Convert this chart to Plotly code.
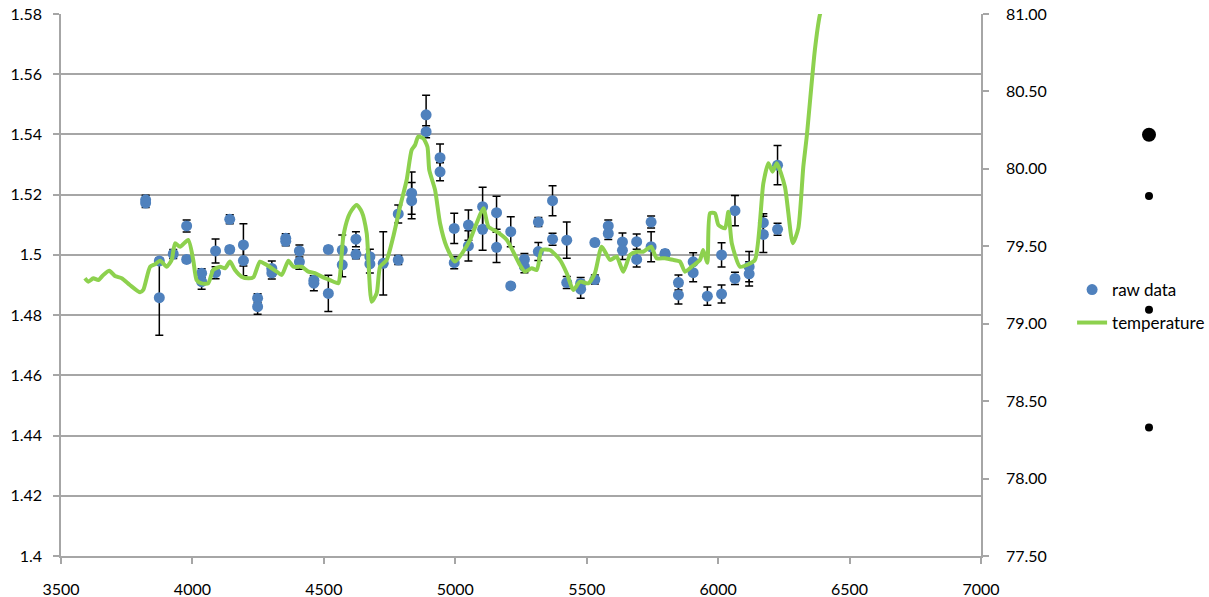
import plotly.graph_objects as go

# ---- raw data (left axis) ----
raw_x = [3822, 3822, 3874, 3874, 3927, 3978, 3978, 4035, 4035, 4088, 4088,
         4142, 4142, 4194, 4194, 4248, 4248, 4302, 4302, 4355, 4355, 4407, 4407,
         4462, 4462, 4517, 4517, 4570, 4570, 4622, 4622, 4675, 4675, 4726,
         4783, 4783, 4834, 4834, 4889, 4889, 4942, 4942, 4996, 4996, 5050, 5050,
         5104, 5104, 5157, 5157, 5211, 5211, 5263, 5263, 5316, 5316, 5370, 5370,
         5424, 5424, 5477, 5477, 5531, 5531, 5582, 5582, 5636, 5636, 5690, 5690,
         5745, 5745, 5798, 5798, 5849, 5849, 5905, 5905, 5959, 6013, 6013,
         6064, 6064, 6118, 6118, 6172, 6172, 6226, 6226]
raw_y = [1.5183, 1.5172, 1.4980, 1.4858, 1.5003, 1.5096, 1.4985, 1.4939, 1.4911, 1.5013, 1.4941,
         1.5118, 1.5018, 1.5033, 1.4981, 1.4856, 1.4828, 1.4955, 1.4940, 1.5055, 1.5045, 1.5013, 1.4977,
         1.4916, 1.4906, 1.5018, 1.4872, 1.5016, 1.4967, 1.5052, 1.5002, 1.4994, 1.4970, 1.4972,
         1.5136, 1.4983, 1.5205, 1.5180, 1.5465, 1.5409, 1.5323, 1.5276, 1.5088, 1.4974, 1.5099, 1.5030,
         1.5160, 1.5085, 1.5140, 1.5025, 1.5077, 1.4897, 1.4985, 1.4961, 1.5109, 1.5011, 1.5180, 1.5052,
         1.5049, 1.4908, 1.4905, 1.4886, 1.5041, 1.4918, 1.5096, 1.5071, 1.5043, 1.5015, 1.5044, 1.4985,
         1.5109, 1.5027, 1.5005, 1.5002, 1.4908, 1.4867, 1.4977, 1.4941, 1.4863, 1.5000, 1.4870,
         1.5147, 1.4922, 1.4961, 1.4937, 1.5107, 1.5068, 1.5298, 1.5085]
raw_err = [0.0015, 0.0015, 0.0010, 0.0125, 0.0015, 0.0020, 0.0010, 0.0015, 0.0025, 0.0040, 0.0020,
           0.0015, 0.0010, 0.0070, 0.0050, 0.0015, 0.0025, 0.0025, 0.0020, 0.0015, 0.0015, 0.0020, 0.0025,
           0.0015, 0.0025, 0.0010, 0.0060, 0.0050, 0.0040, 0.0025, 0.0015, 0.0025, 0.0030, 0.0105,
           0.0030, 0.0015, 0.0070, 0.0060, 0.0065, 0.0020, 0.0045, 0.0030, 0.0050, 0.0020, 0.0050, 0.0050,
           0.0065, 0.0070, 0.0055, 0.0050, 0.0050, 0.0010, 0.0020, 0.0020, 0.0015, 0.0030, 0.0050, 0.0020,
           0.0060, 0.0020, 0.0020, 0.0030, 0.0010, 0.0015, 0.0020, 0.0020, 0.0030, 0.0030, 0.0025, 0.0025,
           0.0020, 0.0050, 0.0010, 0.0010, 0.0025, 0.0030, 0.0030, 0.0030, 0.0030, 0.0040, 0.0030,
           0.0050, 0.0020, 0.0050, 0.0040, 0.0030, 0.0060, 0.0065, 0.0020]

# ---- temperature (right axis) ----
temp_x = [3591, 3604, 3623, 3642, 3661, 3684, 3705, 3731, 3762, 3801, 3813, 3839, 3858, 3877,
          3902, 3921, 3934, 3953, 3984, 4003, 4016, 4035, 4060, 4079, 4105, 4124, 4143, 4162,
          4187, 4213, 4232, 4257, 4283, 4321, 4340, 4365, 4384, 4416, 4441, 4466, 4492, 4523,
          4555, 4561, 4574, 4593, 4606, 4625, 4644, 4663, 4682, 4701, 4714, 4739, 4764, 4790,
          4815, 4834, 4847, 4859, 4878, 4894, 4901, 4923, 4942, 4967, 4999, 5030, 5056, 5081,
          5107, 5126, 5158, 5196, 5246, 5265, 5291, 5310, 5329, 5360, 5398, 5424, 5449, 5474,
          5506, 5531, 5557, 5589, 5614, 5639, 5665, 5690, 5715, 5745, 5766, 5798, 5829, 5855,
          5874, 5899, 5931, 5943, 5959, 5969, 5988, 6001, 6026, 6039, 6052, 6083, 6109, 6140,
          6172, 6191, 6207, 6223, 6254, 6284, 6305, 6324, 6337, 6368, 6387, 6403]
temp_y = [79.293, 79.271, 79.293, 79.282, 79.315, 79.342, 79.308, 79.293, 79.250, 79.203, 79.218,
          79.368, 79.384, 79.407, 79.368, 79.412, 79.519, 79.497, 79.541, 79.412, 79.282, 79.261,
          79.261, 79.347, 79.368, 79.358, 79.401, 79.347, 79.304, 79.293, 79.300, 79.401, 79.379,
          79.336, 79.315, 79.407, 79.368, 79.368, 79.336, 79.326, 79.304, 79.282, 79.261, 79.304,
          79.562, 79.691, 79.734, 79.767, 79.723, 79.584, 79.142, 79.197, 79.368, 79.412, 79.562,
          79.756, 79.928, 80.122, 80.154, 80.208, 80.197, 80.143, 79.993, 79.864, 79.649, 79.497,
          79.401, 79.465, 79.541, 79.649, 79.745, 79.627, 79.594, 79.541, 79.379, 79.336, 79.358,
          79.347, 79.476, 79.476, 79.412, 79.326, 79.218, 79.271, 79.261, 79.326, 79.497, 79.412,
          79.433, 79.336, 79.444, 79.465, 79.465, 79.497, 79.423, 79.423, 79.412, 79.401, 79.336,
          79.368, 79.412, 79.476, 79.394, 79.713, 79.713, 79.638, 79.616, 79.723, 79.519, 79.368,
          79.379, 79.412, 79.907, 80.036, 79.982, 80.036, 79.885, 79.519, 79.616, 80.014, 80.208,
          80.768, 80.994, 81.090]

# ---- stray black dots to the right of the plot (right-axis units, paper x) ----
dot_xpaper = [1.1826, 1.1826, 1.1826, 1.1826]
dot_y = [80.22, 79.825, 79.09, 78.33]
dot_size = [14, 8, 8, 8]

# ---- axis ticks ----
x_ticks = [3500, 4000, 4500, 5000, 5500, 6000, 6500, 7000]
y_ticks = [1.4, 1.42, 1.44, 1.46, 1.48, 1.5, 1.52, 1.54, 1.56, 1.58]
y_tick_text = ["1.4", "1.42", "1.44", "1.46", "1.48", "1.5", "1.52", "1.54", "1.56", "1.58"]
y2_ticks = [77.5, 78.0, 78.5, 79.0, 79.5, 80.0, 80.5, 81.0]

FONT = "Lato"
FS = 16
LFS = 17
GRID = "#A6A6A6"

fig = go.Figure()

fig.add_trace(go.Scatter(
    x=raw_x, y=raw_y, mode="markers", name="raw data",
    marker=dict(color="#4F81BD", size=11),
    error_y=dict(type="data", array=raw_err, color="black", thickness=1.5, width=4),
    cliponaxis=False, legend="legend",
))

fig.add_trace(go.Scatter(
    x=temp_x, y=temp_y, mode="lines", name="temperature", yaxis="y2",
    line=dict(color="#8DD14E", width=4, shape="spline", smoothing=0.6),
    legend="legend2",
))

shapes = []
for xp, yv, s in zip(dot_xpaper, dot_y, dot_size):
    shapes.append(dict(
        type="circle", xref="paper", yref="y2",
        xsizemode="pixel", ysizemode="pixel",
        xanchor=xp, yanchor=yv,
        x0=-s / 2, x1=s / 2, y0=-s / 2, y1=s / 2,
        fillcolor="black", line=dict(width=0),
    ))

fig.update_layout(
    width=1209, height=597,
    margin=dict(l=61, r=228, t=14, b=41, autoexpand=False),
    paper_bgcolor="white", plot_bgcolor="white",
    font=dict(family=FONT, size=FS, color="black"),
    showlegend=True,
    shapes=shapes,
    xaxis=dict(
        range=[3500, 7000], tickvals=x_ticks, showgrid=False, zeroline=False,
        showline=True, linecolor=GRID, linewidth=1.5, automargin=False,
        ticks="outside", ticklen=6, tickcolor=GRID, tickwidth=1.5,
        ticklabelstandoff=12, tickfont=dict(size=FS),
    ),
    yaxis=dict(
        range=[1.4, 1.58], tickvals=y_ticks, ticktext=y_tick_text,
        showgrid=True, gridcolor=GRID, gridwidth=1.5, zeroline=False,
        showline=True, linecolor=GRID, linewidth=1.5, automargin=False,
        ticks="outside", ticklen=6, tickcolor=GRID, tickwidth=1.5,
        ticklabelstandoff=8, tickfont=dict(size=FS),
    ),
    yaxis2=dict(
        range=[77.5, 81.0], tickvals=y2_ticks, tickformat=".2f",
        overlaying="y", side="right", showgrid=False, zeroline=False,
        showline=True, linecolor=GRID, linewidth=1.5, automargin=False,
        ticks="outside", ticklen=6, tickcolor=GRID, tickwidth=1.5,
        ticklabelstandoff=14, tickfont=dict(size=FS),
    ),
    legend=dict(x=1.099, y=0.4908, xanchor="left", yanchor="middle",
                bgcolor="rgba(0,0,0,0)", font=dict(family=FONT, size=LFS)),
    legend2=dict(x=1.099, y=0.4299, xanchor="left", yanchor="middle",
                 bgcolor="rgba(0,0,0,0)", font=dict(family=FONT, size=LFS)),
)

fig.write_html("out.html")
